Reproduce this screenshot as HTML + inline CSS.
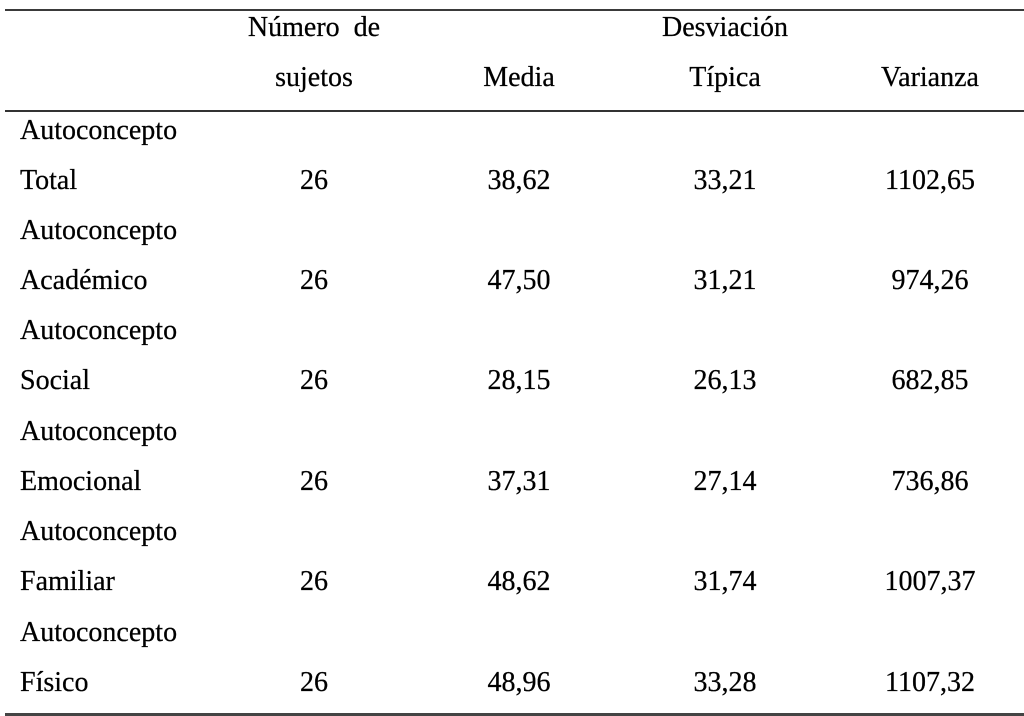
<!DOCTYPE html>
<html>
<head>
<meta charset="utf-8">
<style>
  html, body { margin:0; padding:0; background:#ffffff; }
  body { width:1024px; height:716px; position:relative; overflow:hidden;
         font-family:"Liberation Serif", "Noto Serif CJK SC", serif; font-size:28px; color:#000; }
  .t { position:absolute; line-height:31px; white-space:pre; -webkit-text-stroke:0.25px #000; }
  .c { width:200px; text-align:center; }
  .l { left:20px; }
  .rule { position:absolute; left:5px; right:0; background:#3a3a3a; }
</style>
</head>
<body>
<div class="rule" style="top:9px;height:2px;"></div>
<div class="rule" style="top:110px;height:1.5px;background:#333;"></div>
<div class="rule" style="top:713px;height:3px;background:#444;"></div>

<!-- header -->
<div class="t c" style="left:214px;top:12px;">Número&nbsp; de</div>
<div class="t c" style="left:214px;top:62px;">sujetos</div>
<div class="t c" style="left:419px;top:62px;">Media</div>
<div class="t c" style="left:625px;top:12px;">Desviación</div>
<div class="t c" style="left:625px;top:62px;">Típica</div>
<div class="t c" style="left:830px;top:62px;">Varianza</div>

<div class="t l" style="top:115px;">Autoconcepto</div>
<div class="t l" style="top:165px;">Total</div>
<div class="t c" style="left:214px;top:165px;">26</div>
<div class="t c" style="left:419px;top:165px;">38,62</div>
<div class="t c" style="left:625px;top:165px;">33,21</div>
<div class="t c" style="left:830px;top:165px;">1102,65</div>

<div class="t l" style="top:215px;">Autoconcepto</div>
<div class="t l" style="top:265px;">Académico</div>
<div class="t c" style="left:214px;top:265px;">26</div>
<div class="t c" style="left:419px;top:265px;">47,50</div>
<div class="t c" style="left:625px;top:265px;">31,21</div>
<div class="t c" style="left:830px;top:265px;">974,26</div>

<div class="t l" style="top:315px;">Autoconcepto</div>
<div class="t l" style="top:365px;">Social</div>
<div class="t c" style="left:214px;top:365px;">26</div>
<div class="t c" style="left:419px;top:365px;">28,15</div>
<div class="t c" style="left:625px;top:365px;">26,13</div>
<div class="t c" style="left:830px;top:365px;">682,85</div>

<div class="t l" style="top:416px;">Autoconcepto</div>
<div class="t l" style="top:466px;">Emocional</div>
<div class="t c" style="left:214px;top:466px;">26</div>
<div class="t c" style="left:419px;top:466px;">37,31</div>
<div class="t c" style="left:625px;top:466px;">27,14</div>
<div class="t c" style="left:830px;top:466px;">736,86</div>

<div class="t l" style="top:516px;">Autoconcepto</div>
<div class="t l" style="top:566px;">Familiar</div>
<div class="t c" style="left:214px;top:566px;">26</div>
<div class="t c" style="left:419px;top:566px;">48,62</div>
<div class="t c" style="left:625px;top:566px;">31,74</div>
<div class="t c" style="left:830px;top:566px;">1007,37</div>

<div class="t l" style="top:617px;">Autoconcepto</div>
<div class="t l" style="top:667px;">Físico</div>
<div class="t c" style="left:214px;top:667px;">26</div>
<div class="t c" style="left:419px;top:667px;">48,96</div>
<div class="t c" style="left:625px;top:667px;">33,28</div>
<div class="t c" style="left:830px;top:667px;">1107,32</div>
</body>
</html>
